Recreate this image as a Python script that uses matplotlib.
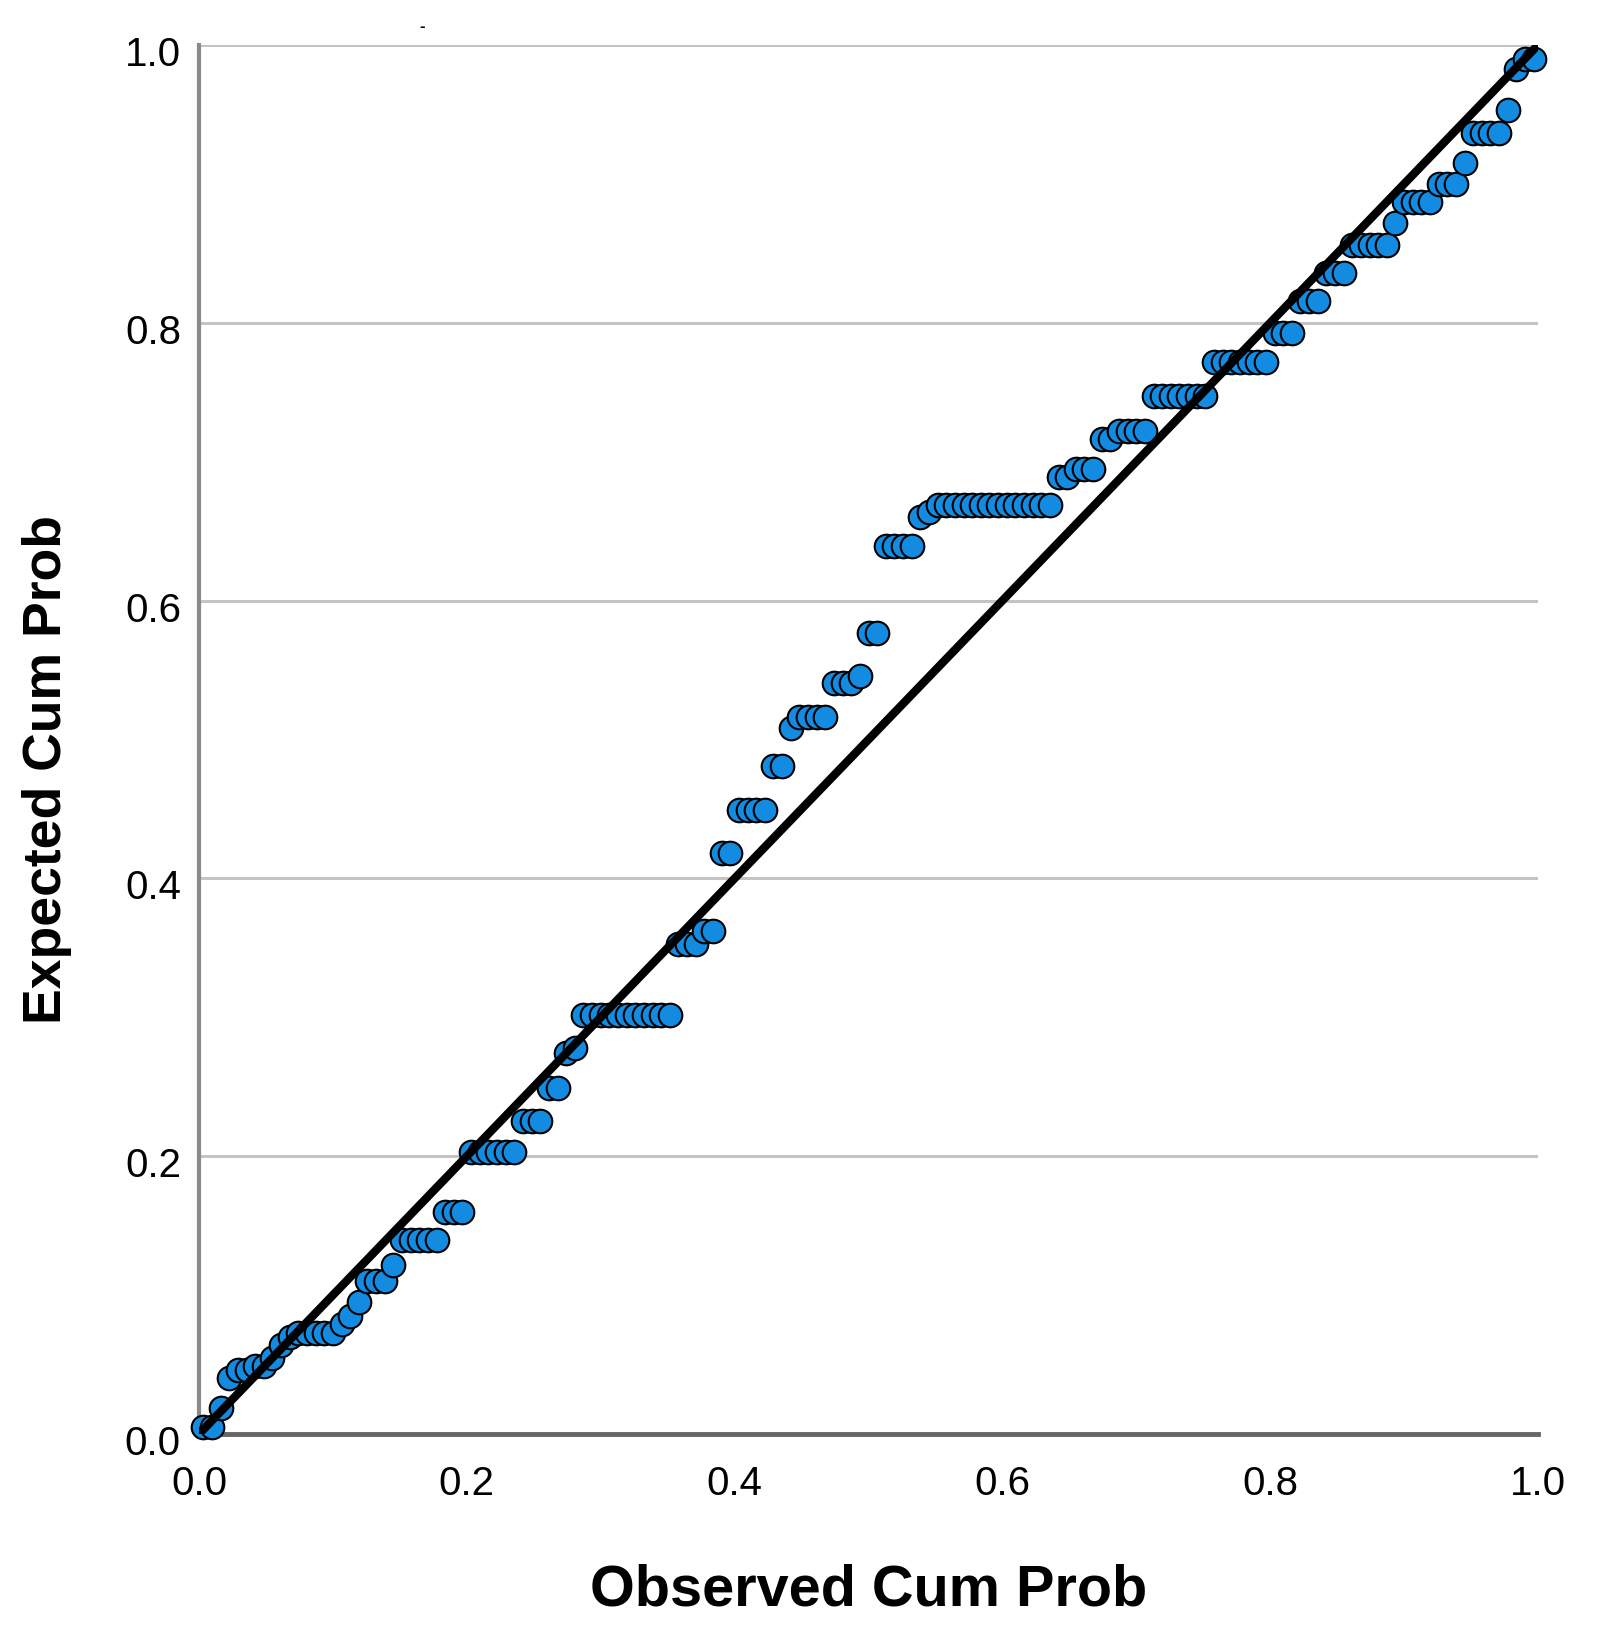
import numpy as np
import matplotlib
matplotlib.use("Agg")
import matplotlib.pyplot as plt
import matplotlib.transforms as mtransforms

# Expected cumulative probability of each distinct value (ties share a level)
exp_levels = [0.005, 0.019, 0.040, 0.046, 0.049, 0.055, 0.064, 0.070, 0.073, 0.079,
              0.085, 0.095, 0.110, 0.122, 0.140, 0.160, 0.203, 0.225, 0.249, 0.274,
              0.278, 0.302, 0.353, 0.362, 0.418, 0.449, 0.481, 0.508, 0.516, 0.541,
              0.546, 0.577, 0.639, 0.660, 0.664, 0.669, 0.689, 0.695, 0.716, 0.722,
              0.747, 0.772, 0.793, 0.816, 0.836, 0.856, 0.872, 0.887, 0.900, 0.915,
              0.937, 0.953, 0.983, 0.990]
# Number of cases at each level
tie_counts = [2, 1, 1, 2, 2, 1, 1, 1, 5, 1,
              1, 1, 3, 1, 5, 3, 6, 3, 2, 1,
              1, 11, 3, 2, 2, 4, 2, 1, 4, 3,
              1, 2, 4, 1, 1, 14, 2, 3, 2, 4,
              7, 7, 3, 3, 3, 5, 1, 4, 3, 1,
              4, 1, 1, 2]

ticks = [0.0, 0.2, 0.4, 0.6, 0.8, 1.0]
tick_labels = ["0.0", "0.2", "0.4", "0.6", "0.8", "1.0"]

# Observed cumulative probability from ranks
expected = np.repeat(exp_levels, tie_counts)
n = len(expected)
observed = (np.arange(1, n + 1) - 0.5) / n

plt.rcParams['font.family'] = ['Liberation Sans', 'DejaVu Sans']

fig = plt.figure(figsize=(16.12, 16.42), dpi=100)
ax = fig.add_axes([199/1612, 1 - 1434/1642, (1538-199)/1612, (1434-45)/1642])

ax.scatter(observed, expected, s=17**2, c='#138be0', edgecolors='black',
           linewidths=1.5, zorder=3, clip_on=False)
ax.plot([0, 1], [0, 1], color='black', lw=6, zorder=4, solid_capstyle='butt')

ax.set_xlim(0, 1)
ax.set_ylim(0, 1)
ax.set_xticks(ticks)
ax.set_xticklabels(tick_labels)
ax.set_yticks(ticks)
ax.set_yticklabels(tick_labels)
ax.tick_params(axis='both', length=0, labelsize=29, colors='black')
ax.tick_params(axis='x', pad=22)
ax.tick_params(axis='y', pad=13)
offset = mtransforms.ScaledTranslation(0, -6/100, fig.dpi_scale_trans)
for lab in ax.get_yticklabels():
    lab.set_transform(lab.get_transform() + offset)

for t in ticks[1:]:
    ax.axhline(t, color='#c4c4c4', lw=2.2, zorder=1)

ax.spines['right'].set_visible(False)
ax.spines['top'].set_visible(False)
ax.spines['left'].set_color('#8a8a8a')
ax.spines['left'].set_linewidth(3)
ax.spines['bottom'].set_color('#666666')
ax.spines['bottom'].set_linewidth(3.5)

fig.text(869/1612, 1 - 1590/1642, "Observed Cum Prob", fontsize=41.5, fontweight='bold',
         ha='center', va='center')
fig.text(47/1612, 1 - 770/1642, "Expected Cum Prob", fontsize=38.5, fontweight='bold',
         ha='center', va='center', rotation=90)
fig.text(422/1612, 1 - 26/1642, "-", fontsize=12, fontweight='bold', ha='center', va='center')

fig.savefig("out.png", dpi=100)
